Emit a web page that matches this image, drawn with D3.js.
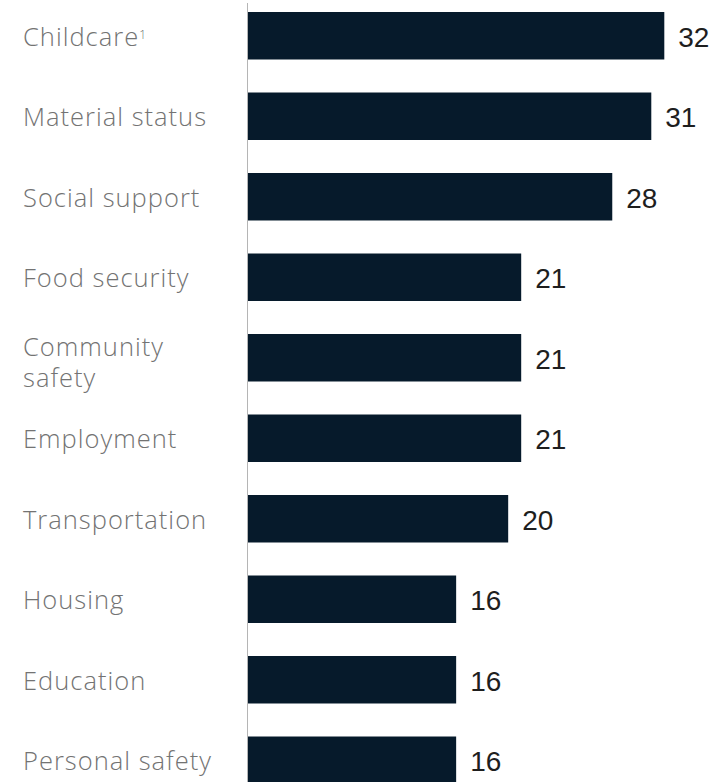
<!DOCTYPE html>
<html>
<head>
<meta charset="utf-8">
<script src="https://cdn.jsdelivr.net/npm/d3@7"></script>
<style>
  html, body { margin: 0; padding: 0; background: #fff; }
  svg { display: block; }
</style>
</head>
<body>
<svg id="chart" width="715" height="782"></svg>
<script>
const categories = ["Childcare", "Material status", "Social support", "Food security", "Community safety", "Employment", "Transportation", "Housing", "Education", "Personal safety"];
const labelLines = [["Childcare"], ["Material status"], ["Social support"], ["Food security"], ["Community", "safety"], ["Employment"], ["Transportation"], ["Housing"], ["Education"], ["Personal safety"]];
const footnotes = ["1", "", "", "", "", "", "", "", "", ""];
const values = [32, 31, 28, 21, 21, 21, 20, 16, 16, 16];

const svg = d3.select("#chart");
const W = 715, H = 782;

const x = d3.scaleLinear().domain([0, 32]).range([248, 664.3]);
const y = d3.scaleBand().domain(categories).range([-4.5, 800.5]).paddingInner(0.41).paddingOuter(0.205);

// axis line
svg.append("line")
  .attr("x1", 247.5).attr("x2", 247.5)
  .attr("y1", 3).attr("y2", H)
  .attr("stroke", "#b5b5b5").attr("stroke-width", 1);

// bars
svg.selectAll("rect.bar").data(categories).join("rect")
  .attr("class", "bar")
  .attr("x", x(0))
  .attr("y", d => y(d))
  .attr("width", (d, i) => x(values[i]) - x(0))
  .attr("height", y.bandwidth())
  .attr("fill", "#061a2b");

// value labels
svg.selectAll("text.val").data(categories).join("text")
  .attr("class", "val")
  .attr("x", (d, i) => x(values[i]) + 14)
  .attr("y", d => y(d) + y.bandwidth() / 2 + 11)
  .attr("font-family", "'Liberation Sans', Arial, sans-serif")
  .attr("font-size", 28)
  .attr("fill", "#1e1e1e")
  .text((d, i) => values[i]);

// category labels
const lab = svg.selectAll("text.cat").data(categories).join("text")
  .attr("class", "cat")
  .attr("x", 23)
  .attr("y", (d, i) => y(d) + y.bandwidth() / 2 + (labelLines[i].length > 1 ? -2 : 10))
  .attr("font-family", "'Open Sans', 'Liberation Sans', sans-serif")
  .attr("font-weight", 300)
  .attr("font-size", 25.5)
  .attr("letter-spacing", 1)
  .attr("fill", "#737373");

lab.each(function(d, i) {
  const t = d3.select(this);
  labelLines[i].forEach((line, j) => {
    t.append("tspan").attr("x", 23).attr("dy", j === 0 ? 0 : 31).text(line);
  });
  if (footnotes[i]) {
    t.append("tspan").attr("font-size", 12).attr("letter-spacing", 0).attr("baseline-shift", "60%").text(footnotes[i]);
  }
});
</script>
</body>
</html>
